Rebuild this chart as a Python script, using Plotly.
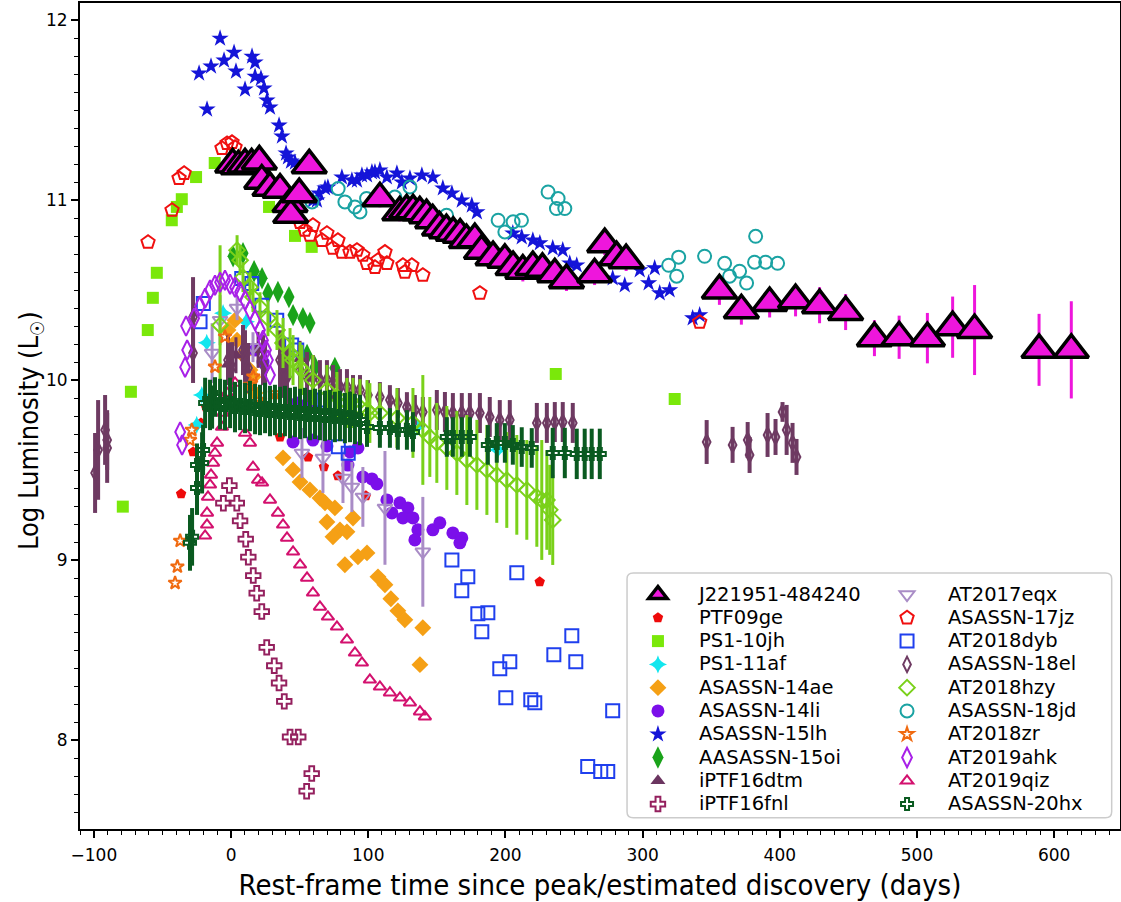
import plotly.graph_objects as go

# ---------------- data ----------------
J_X = [1.2, 5.3, 10.2, 15.0, 20.6, 22.4, 28.4, 35.7, 43.0, 43.5, 49.7, 57.0, 108.5, 123.0, 128.0, 132.7,
       137.6, 142.5, 147.0, 152.0, 157.0, 162.0, 167.0, 171.6, 177.7, 182.6, 191.0, 199.6, 205.6, 212.7,
       220.0, 227.0, 236.0, 244.5, 265.0, 272.4, 281.0, 288.0, 356.0, 372.0, 392.6, 411.5, 429.0, 448.0,
       469.0, 487.0, 507.6, 526.0, 542.0, 589.0, 612.5]
J_Y = [11.20, 11.19, 11.20, 11.20, 11.217, 11.11, 11.07, 11.06, 10.98, 10.92, 11.035, 11.195, 11.012, 10.934,
       10.945, 10.945, 10.934, 10.918, 10.89, 10.85, 10.835, 10.82, 10.81, 10.78, 10.785, 10.72, 10.685, 10.67,
       10.63, 10.61, 10.63, 10.62, 10.59, 10.557, 10.59, 10.757, 10.685, 10.668, 10.50, 10.39, 10.43, 10.446,
       10.418, 10.38, 10.235, 10.24, 10.235, 10.296, 10.28, 10.17, 10.17]
J_E = [0.03, 0.03, 0.03, 0.03, 0.03, 0.04, 0.04, 0.04, 0.04, 0.04, 0.04, 0.04, 0.05, 0.05, 0.05, 0.05,
       0.05, 0.05, 0.05, 0.05, 0.05, 0.05, 0.05, 0.05, 0.05, 0.06, 0.06, 0.06, 0.06, 0.06, 0.06, 0.06,
       0.06, 0.06, 0.06, 0.06, 0.06, 0.06, 0.08, 0.08, 0.08, 0.09, 0.10, 0.10, 0.10, 0.12, 0.14, 0.17,
       0.25, 0.20, 0.27]

PTF09GE_X = [-36.4, -27.7, -21.9, -18.2, 35.7, 56.1, 67.7, 77.9, 98.3, 225.0]
PTF09GE_Y = [9.370, 9.603, 9.764, 9.852, 9.686, 9.575, 9.520, 9.470, 9.359, 8.881]

PS110JH_X = [-78.9, -73.0, -60.7, -57.0, -54.1, -43.2, -39.5, -35.9, -25.5, -11.9, 27.7, 46.6, 58.8, 236.7, 323.4]
PS110JH_Y = [9.299, 9.937, 10.280, 10.459, 10.598, 10.890, 10.964, 11.007, 11.130, 11.208, 10.964, 10.803,
             10.742, 10.036, 9.897]

PS111AF_X = [-25.0, -21.3, -17.7, -5.8, 10.9, 135.5, 194.5]
PS111AF_Y = [9.753, 9.919, 10.209, 10.374, 10.326, 9.741, 9.614]

A14AE_X = [-2.2, 2.9, 4.4, 8.7, 13.8, 16.0, 17.5, 22.6, 37.9, 45.2, 50.3, 57.5, 64.8, 68.5, 75.7, 69.9, 79.4,
           88.9, 74.3, 84.5, 83.0, 92.5, 99.1, 107.1, 112.2, 116.5, 121.6, 126.7, 139.8, 137.7]
A14AE_Y = [10.280, 10.335, 10.224, 10.141, 10.058, 10.019, 9.930, 9.864, 9.570, 9.503, 9.436, 9.392, 9.347,
           9.320, 9.292, 9.214, 9.170, 9.236, 9.131, 9.159, 8.976, 9.020, 9.042, 8.909, 8.865, 8.787, 8.720,
           8.670, 8.626, 8.421]

A14LI_X = [17.5, 23.3, 48.1, 55.4, 45.2, 59.7, 69.9, 86.7, 92.5, 85.2, 96.1, 102.7, 106.3, 113.6, 117.3,
           123.1, 128.9, 125.3, 132.6, 136.2, 147.1, 152.2, 134.0, 161.7, 168.2, 166.8]
A14LI_Y = [10.169, 10.102, 9.875, 9.864, 9.658, 9.669, 9.636, 9.603, 9.625, 9.530, 9.464, 9.453, 9.425,
           9.336, 9.264, 9.320, 9.292, 9.236, 9.236, 9.170, 9.170, 9.209, 9.114, 9.153, 9.125, 9.098]

A15LH_X = [-23.3, -17.5, -14.6, -8.0, -5.1, 2.2, 3.6, 10.2, 15.3, 17.5, 17.5, 21.8, 24.0, 26.2, 28.4, 35.0,
           37.1, 40.1, 41.5, 43.7, 46.6, 59.7, 62.6, 64.1, 68.5, 70.6, 80.8, 88.1, 91.8, 95.4, 99.1, 102.7,
           104.9, 108.5, 113.6, 120.9, 124.5, 130.4, 139.1, 147.1, 154.4, 161.0, 168.2, 175.5, 179.2, 205.4,
           211.9, 220.0, 225.1, 234.5, 241.8, 246.9, 252.0, 278.2, 287.0, 297.9, 308.8, 304.4, 312.5, 319.7,
           336.5, 341.6]
A15LH_Y = [11.706, 11.506, 11.745, 11.900, 11.778, 11.822, 11.717, 11.617, 11.800, 11.767, 11.689, 11.678,
           11.623, 11.556, 11.517, 11.417, 11.356, 11.262, 11.240, 11.217, 11.212, 11.001, 11.001, 11.040,
           11.068, 11.073, 11.129, 11.112, 11.112, 11.140, 11.140, 11.157, 11.157, 11.168, 11.129, 11.151,
           11.101, 11.123, 11.140, 11.129, 11.068, 11.040, 11.001, 10.973, 10.935, 10.818, 10.796, 10.779,
           10.763, 10.735, 10.724, 10.651, 10.640, 10.568, 10.529, 10.613, 10.624, 10.541, 10.485, 10.502,
           10.346, 10.363]

A15OI_X = [1.5, 8.7, 16.8, 22.6, 26.9, 34.2, 42.2, 45.2, 52.4, 57.5, 55.4, 61.2, 75.7]
A15OI_Y = [10.690, 10.707, 10.607, 10.568, 10.485, 10.491, 10.463, 10.363, 10.346, 10.319, 10.141, 10.074, 10.069]

P16DTM_X = [-2.2, 3.6, 19.7, 50.3]
P16DTM_Y = [10.09, 10.14, 10.17, 10.12]
P16DTM_E = [0.10, 0.10, 0.10, 0.10]

P16FNL_X = [-1.2, -5.6, 4.2, 6.6, 10.7, 12.6, 16.2, 18.7, 22.4, 26.0, 31.5, 35.0, 38.8, 43.0, 49.0, 58.8, 55.1]
P16FNL_Y = [9.416, 9.318, 9.318, 9.220, 9.118, 9.018, 8.916, 8.818, 8.716, 8.517, 8.415, 8.319, 8.217, 8.019,
            8.019, 7.816, 7.718]

AT17EQX_X = [4.4, -13.8, -8.0, 16.0, 51.7, 67.0, 81.6, 88.1, 96.1, 112.2, 139.8]
AT17EQX_Y = [10.402, 10.152, 10.335, 10.185, 9.597, 9.569, 9.458, 9.408, 9.353, 9.292, 9.048]
AT17EQX_E = [0.067, 0.166, 0.139, 0.083, 0.139, 0.194, 0.139, 0.139, 0.166, 0.316, 0.305]

A17JZ_X = [-60.5, -43.0, -37.9, -34.2, -6.6, -2.9, 0.7, 2.9, 50.3, 53.9, 57.5, 59.7, 66.3, 69.9, 74.3, 77.9,
           80.8, 86.7, 91.8, 96.1, 99.1, 104.9, 107.1, 112.2, 113.6, 125.3, 131.8, 126.7, 139.8, 181.4, 341.6]
A17JZ_Y = [10.768, 10.946, 11.123, 11.151, 11.290, 11.317, 11.323, 11.295, 10.879, 10.835, 10.807, 10.862,
           10.779, 10.818, 10.735, 10.779, 10.713, 10.713, 10.724, 10.696, 10.651, 10.629, 10.668, 10.713,
           10.651, 10.640, 10.640, 10.602, 10.585, 10.485, 10.324]

AT18DYB_X = [-20.2, -22.6, 7.8, 15.1, 22.4, 33.3, 44.2, 47.9, 67.2, 78.2, 85.4, 161.0, 172.6, 168.2, 179.9,
             187.2, 182.8, 195.9, 203.2, 208.3, 200.3, 218.5, 221.4, 235.3, 248.4, 251.3, 260.0, 269.5, 274.6,
             278.2]
AT18DYB_Y = [10.428, 10.326, 10.567, 10.539, 10.418, 10.335, 10.197, 10.169, 9.891, 9.632, 9.595, 9.003,
             8.909, 8.831, 8.704, 8.709, 8.604, 8.398, 8.437, 8.931, 8.237, 8.226, 8.210, 8.476, 8.582, 8.437,
             7.855, 7.827, 7.827, 8.165]

A18EL_X = [-99.1, -96.9, -91.8, -90.3, -90.3, -27.7, -27.7, -2.2, 0.7, 8.7, 10.2, 12.4, 23.3, 24.8, 35.7,
           37.9, 40.8, 50.3, 55.4, 59.7, 64.8, 69.9, 74.3, 79.4, 84.5, 88.9, 94.0, 99.8, 108.5, 115.8, 121.6,
           128.2, 134.0, 139.8, 150.0, 155.9, 161.7, 168.2, 174.1, 181.4, 188.6, 195.9, 203.2, 222.9, 230.2,
           236.0, 241.8, 249.1, 346.7, 365.6, 376.6, 378.0, 391.1, 396.9, 402.0, 405.0, 409.3, 412.2]
A18EL_Y = [9.486, 9.614, 9.725, 9.669, 9.625, 10.352, 10.152, 10.113, 10.074, 10.169, 10.113, 10.069,
           10.113, 10.069, 10.113, 10.069, 10.019, 10.058, 10.019, 10.019, 10.002, 10.002, 9.986, 9.963,
           9.963, 9.947, 9.947, 9.919, 9.908, 9.891, 9.875, 9.852, 9.836, 9.825, 9.836, 9.825, 9.819, 9.819,
           9.819, 9.819, 9.797, 9.780, 9.780, 9.764, 9.764, 9.769, 9.769, 9.764, 9.658, 9.642, 9.669, 9.586,
           9.697, 9.686, 9.825, 9.725, 9.653, 9.575]
A18EL_E = [0.222, 0.277, 0.194, 0.166, 0.194, 0.222, 0.166, 0.139, 0.139, 0.139, 0.166, 0.139, 0.139, 0.139,
           0.166, 0.166, 0.166, 0.139, 0.139, 0.122, 0.111, 0.111, 0.100, 0.100, 0.100, 0.083, 0.083, 0.083,
           0.083, 0.083, 0.083, 0.083, 0.083, 0.083, 0.111, 0.111, 0.111, 0.111, 0.111, 0.111, 0.111, 0.111,
           0.111, 0.111, 0.111, 0.111, 0.111, 0.111, 0.122, 0.100, 0.100, 0.100, 0.122, 0.100, 0.055, 0.139,
           0.111, 0.100]

AT18HZY_X = [-8.0, 4.4, 6.6, 8.7, 13.8, 16.0, 21.1, 26.9, 33.5, 37.9, 43.0, 45.2, 50.3, 51.7, 59.7, 69.9, 77.2,
             84.5, 88.9, 94.0, 99.1, 101.2, 108.5, 120.9, 132.6, 139.8, 144.9, 150.0, 157.3, 164.6, 171.9,
             179.2, 186.5, 193.7, 201.0, 208.3, 215.6, 222.9, 226.5, 230.2, 232.3, 234.5]
AT18HZY_Y = [10.307, 10.724, 10.668, 10.574, 10.518, 10.463, 10.407, 10.346, 10.280, 10.208, 10.152, 10.113,
             10.074, 10.058, 10.002, 9.947, 9.908, 9.875, 9.875, 9.852, 9.836, 9.819, 9.819, 9.791, 9.764,
             9.725, 9.686, 9.653, 9.625, 9.597, 9.558, 9.531, 9.503, 9.475, 9.447, 9.420, 9.392, 9.353, 9.336,
             9.336, 9.281, 9.225]
AT18HZY_E = [0.444, 0.083, 0.083, 0.083, 0.083, 0.083, 0.083, 0.100, 0.111, 0.139, 0.139, 0.139, 0.139, 0.139,
             0.139, 0.139, 0.139, 0.139, 0.139, 0.155, 0.166, 0.166, 0.166, 0.166, 0.194, 0.305, 0.222, 0.222,
             0.233, 0.233, 0.250, 0.250, 0.250, 0.266, 0.266, 0.277, 0.277, 0.277, 0.333, 0.277, 0.250, 0.250]

A18JD_X = [59.0, 78.1, 83.0, 90.3, 94.0, 98.8, 119.4, 130.4, 157.1, 194.7, 205.6, 199.6, 211.7, 231.1, 238.4,
           237.2, 243.3, 319.0, 326.3, 324.8, 345.2, 359.8, 363.4, 370.7, 375.8, 382.4, 381.6, 389.7, 398.4]
A18JD_Y = [10.992, 11.066, 10.992, 10.964, 10.936, 11.011, 11.019, 11.075, 10.918, 10.890, 10.881, 10.825,
           10.890, 11.047, 11.011, 10.955, 10.955, 10.640, 10.685, 10.579, 10.690, 10.651, 10.579, 10.607,
           10.541, 10.801, 10.657, 10.657, 10.651]

AT18ZR_X = [-40.8, -39.1, -37.1, -29.9, -28.6, -11.7, -4.4, 13.8, 16.2, 21.1, 32.0]
AT18ZR_Y = [8.875, 8.966, 9.109, 9.669, 9.725, 10.076, 10.243, 9.975, 10.021, 9.891, 9.928]

AT19AHK_X = [-37.1, -35.7, -33.5, -32.0, -32.8, -26.9, -22.6, -18.9, -15.3, -11.7, -8.0, -4.4, -0.7, 2.9, 6.6,
             10.2, 13.8, 17.5, 21.1, 23.3, 25.5, 26.9, 28.4]
AT19AHK_Y = [9.714, 9.642, 10.074, 10.169, 10.302, 10.346, 10.413, 10.457, 10.502, 10.529, 10.546, 10.557,
             10.535, 10.518, 10.491, 10.446, 10.391, 10.335, 10.280, 10.224, 10.169, 10.113, 10.030]

AT19QIZ_X = [-18.9, -17.5, -17.5, -16.8, -15.3, -14.6, -13.1, -11.7, -10.2, -6.6, -5.8, -2.9, 2.9, 10.2, 13.8,
             16.0, 19.7, 22.6, 28.4, 34.2, 37.9, 40.8, 45.2, 50.3, 55.4, 59.7, 64.8, 70.6, 77.2, 84.5, 90.3,
             95.4, 101.2, 108.5, 115.8, 123.1, 130.4, 137.7, 141.3]
AT19QIZ_Y = [9.137, 9.198, 9.264, 9.353, 9.420, 9.475, 9.542, 9.597, 9.653, 9.741, 9.819, 9.930, 9.986, 9.708,
             9.653, 9.519, 9.447, 9.431, 9.336, 9.264, 9.198, 9.125, 9.048, 8.976, 8.903, 8.820, 8.742, 8.687,
             8.631, 8.559, 8.487, 8.431, 8.337, 8.298, 8.265, 8.237, 8.210, 8.160, 8.132]

A20HX_X = [-29.9, -28.4, -24.8, -24.8, -21.1, -20.4, -18.9, -13.8, -11.7, -15.3, -8.0, -4.4, -0.7, 2.9, 6.6,
           10.2, 13.8, 17.5, 21.1, 24.8, 28.4, 32.0, 35.7, 39.3, 43.0, 46.6, 50.3, 53.9, 57.5, 61.2, 64.8, 68.5,
           72.1, 75.7, 79.4, 83.0, 86.7, 90.3, 94.0, 99.1, 108.5, 115.8, 121.6, 128.2, 132.6, 157.3, 161.7,
           168.2, 174.1, 187.2, 193.7, 199.6, 205.4, 211.9, 219.2, 234.5, 243.3, 252.0, 257.8, 262.9, 268.8]
A20HX_Y = [9.098, 9.131, 9.403, 9.530, 9.542, 9.614, 9.875, 9.852, 9.908, 9.864, 9.869, 9.864, 9.875, 9.852,
           9.864, 9.847, 9.858, 9.841, 9.836, 9.847, 9.830, 9.836, 9.825, 9.830, 9.819, 9.825, 9.814, 9.819,
           9.808, 9.814, 9.808, 9.803, 9.808, 9.797, 9.803, 9.791, 9.797, 9.786, 9.780, 9.741, 9.736, 9.736,
           9.725, 9.725, 9.714, 9.686, 9.686, 9.686, 9.686, 9.642, 9.653, 9.653, 9.642, 9.630, 9.625, 9.597,
           9.597, 9.592, 9.592, 9.592, 9.592]
A20HX_E = [0.155, 0.160, 0.150, 0.120, 0.170, 0.140, 0.140, 0.120, 0.110, 0.140, 0.140, 0.140, 0.140, 0.140,
           0.140, 0.140, 0.140, 0.140, 0.140, 0.140, 0.140, 0.140, 0.140, 0.140, 0.140, 0.140, 0.140, 0.140,
           0.140, 0.140, 0.140, 0.140, 0.140, 0.140, 0.140, 0.140, 0.140, 0.140, 0.140, 0.110, 0.110, 0.110,
           0.110, 0.110, 0.110, 0.110, 0.110, 0.110, 0.110, 0.110, 0.110, 0.110, 0.110, 0.110, 0.110, 0.140,
           0.140, 0.140, 0.140, 0.140, 0.140]

X_TICKS = [-100, 0, 100, 200, 300, 400, 500, 600]
Y_TICKS = [8, 9, 10, 11, 12]
X_RANGE = [-110.1, 648.0]
Y_RANGE = [7.508, 12.097]

# ---------------- figure ----------------
fig = go.Figure()
LEG_TXT = '<span style="font-size:19.5px">{}</span>'


def add(name, x, y, symbol, color, size, legend, rank, err=None, ethick=3, lw=0, lcolor=None):
    marker = dict(symbol=symbol, size=size, color=color,
                  line=dict(width=lw, color=lcolor if lcolor is not None else color))
    tr = go.Scatter(x=x, y=y, mode="markers", name=LEG_TXT.format(name), marker=marker, legend=legend,
                    legendrank=rank, showlegend=True)
    if err is not None:
        tr.error_y = dict(type="data", array=err, visible=True, color=color, thickness=ethick, width=0)
    fig.add_trace(tr)


add("PTF09ge", PTF09GE_X, PTF09GE_Y, "pentagon", "#EE0A0A", 11, "legend", 2)
add("PS1-10jh", PS110JH_X, PS110JH_Y, "square", "#7AE80A", 12, "legend", 3)
add("PS1-11af", PS111AF_X, PS111AF_Y, "star-diamond", "#12E6EE", 13, "legend", 4)
add("ASASSN-14ae", A14AE_X, A14AE_Y, "diamond", "#F5A015", 13, "legend", 5)
add("ASASSN-14li", A14LI_X, A14LI_Y, "circle", "#7B0FEA", 13, "legend", 6)
add("ASASSN-15lh", A15LH_X, A15LH_Y, "star", "#1414D8", 13, "legend", 7)
add("AASASSN-15oi", A15OI_X, A15OI_Y, "diamond-tall", "#1AA31A", 16, "legend", 8)
add("iPTF16dtm", P16DTM_X, P16DTM_Y, "triangle-up", "#6B3560", 13, "legend", 9, err=P16DTM_E, ethick=3)
add("iPTF16fnl", P16FNL_X, P16FNL_Y, "cross-open", "#94205E", 12, "legend", 10, lw=2)

add("AT2017eqx", AT17EQX_X, AT17EQX_Y, "triangle-down-open", "#A98CC6", 13, "legend2", 1, err=AT17EQX_E,
    ethick=3, lw=2)
add("ASASSN-17jz", A17JZ_X, A17JZ_Y, "pentagon-open", "#F01010", 14, "legend2", 2, lw=2)
add("AT2018dyb", AT18DYB_X, AT18DYB_Y, "square-open", "#1F3FEE", 13, "legend2", 3, lw=2)
add("ASASSN-18el", A18EL_X, A18EL_Y, "diamond-tall-open", "#6E3A62", 11, "legend2", 4, err=A18EL_E,
    ethick=4, lw=2)
add("AT2018hzy", AT18HZY_X, AT18HZY_Y, "diamond-open", "#7AD11A", 12, "legend2", 5, err=AT18HZY_E,
    ethick=3, lw=2)
add("ASASSN-18jd", A18JD_X, A18JD_Y, "circle-open", "#1AA3A3", 13, "legend2", 6, lw=2)
add("AT2018zr", AT18ZR_X, AT18ZR_Y, "star-open", "#F06A10", 10, "legend2", 7, lw=2)
add("AT2019ahk", AT19AHK_X, AT19AHK_Y, "diamond-tall-open", "#A820E8", 14, "legend2", 8, lw=2)
add("AT2019qiz", AT19QIZ_X, AT19QIZ_Y, "triangle-up-open", "#D3106E", 11, "legend2", 9, lw=2)
add("ASASSN-20hx", A20HX_X, A20HX_Y, "cross-open", "#0A5A20", 10, "legend2", 10, err=A20HX_E, ethick=4,
    lw=2)

add("J221951-484240", J_X, J_Y, "triangle-up", "#EE16DC", 30, "legend", 1, err=J_E, ethick=3, lw=3.5,
    lcolor="black")

TICKFONT = dict(family="DejaVu Sans", size=17, color="black")
NARROW = "Liberation Sans Narrow, DejaVu Sans Condensed, Arial Narrow, sans-serif"

legend_common = dict(font=dict(family="DejaVu Sans", size=15.6, color="black"), bgcolor="rgba(0,0,0,0)",
                     borderwidth=0, itemwidth=72, tracegroupgap=0, traceorder="normal",
                     yanchor="top", xanchor="left", y=0.304)

fig.update_layout(
    width=1121, height=902,
    margin=dict(l=80, r=1, t=3, b=73),
    paper_bgcolor="white", plot_bgcolor="white",
    legend=dict(x=0.5163, **legend_common),
    legend2=dict(x=0.7558, **legend_common),
    xaxis=dict(range=X_RANGE, tickvals=X_TICKS, ticks="outside", ticklen=7, tickwidth=1.5,
               tickcolor="black", showline=True, linecolor="black", linewidth=2, mirror=True,
               showgrid=False, zeroline=False, tickfont=TICKFONT, automargin=False, ticklabelstandoff=3,
               minor=dict(dtick=10, ticks="outside", ticklen=4, tickwidth=1.2, tickcolor="black",
                          showgrid=False),
               title=dict(text="Rest-frame time since peak/estimated discovery (days)",
                          font=dict(family=NARROW, size=29, color="black"), standoff=10)),
    yaxis=dict(range=Y_RANGE, tickvals=Y_TICKS, ticks="outside", ticklen=7, tickwidth=1.5,
               tickcolor="black", showline=True, linecolor="black", linewidth=2, mirror=True,
               showgrid=False, zeroline=False, tickfont=TICKFONT, automargin=False,
               minor=dict(dtick=0.1, ticks="outside", ticklen=4, tickwidth=1.2, tickcolor="black",
                          showgrid=False)),
    annotations=[dict(text="Log Luminosity (L<sub>☉</sub>)", xref="paper", yref="paper", x=0, y=0.4817,
                      xanchor="center", yanchor="middle", xshift=-50, textangle=-90, showarrow=False,
                      font=dict(family=NARROW, size=27, color="black"))],
    shapes=[dict(type="path", xref="paper", yref="paper", layer="above",
                 path="M 0.532,0.0137 L 0.986,0.0137 Q 0.992,0.0137 0.992,0.021 L 0.992,0.303 "
                      "Q 0.992,0.310 0.986,0.310 L 0.532,0.310 Q 0.526,0.310 0.526,0.303 "
                      "L 0.526,0.021 Q 0.526,0.0137 0.532,0.0137 Z",
                 fillcolor="white", line=dict(color="#CCCCCC", width=1.5))],
)

fig.write_html("out.html", config={"displayModeBar": False},
               post_script="document.body.style.margin='0';document.body.style.overflow='hidden';")
